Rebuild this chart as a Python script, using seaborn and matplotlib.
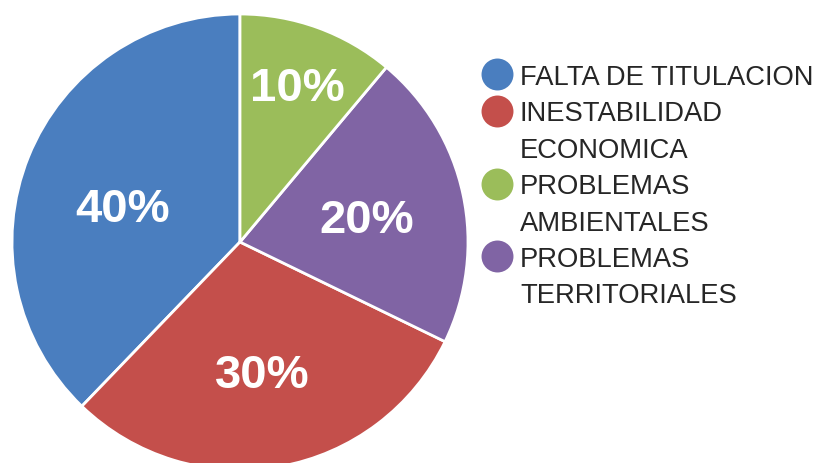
import matplotlib
matplotlib.use("Agg")
import matplotlib.pyplot as plt
import numpy as np
import seaborn as sns
from matplotlib.lines import Line2D

# wedges in drawing order (counter-clockwise from 12 o'clock)
categories = ["FALTA DE TITULACION", "INESTABILIDAD\nECONOMICA",
              "PROBLEMAS\nTERRITORIALES", "PROBLEMAS\nAMBIENTALES"]
shares = [37.8, 30.0, 21.1, 11.1]          # wedge sizes
pct_labels = ["40%", "30%", "20%", "10%"]  # labels printed on the wedges
colors = ["#4a7ebf", "#c44f4b", "#8064a4", "#9bbd5a"]
legend_order = [0, 1, 3, 2]


def main():
    sns.set_theme(style="white")
    plt.rcParams['font.family'] = ['Liberation Sans', 'DejaVu Sans']

    fig = plt.figure(figsize=(8.27, 4.64), dpi=100)
    ax = fig.add_axes([12 / 827, -7 / 464, 456 / 827, 456 / 464])
    wedges, _ = ax.pie(shares, colors=colors, startangle=90, counterclock=True,
                       wedgeprops=dict(edgecolor="white", linewidth=2))
    ax.set_xlim(-1, 1)
    ax.set_ylim(-1, 1)
    ax.set_aspect("equal")

    # (distance from centre, extra angle) per label, tuned by eye
    label_pos = [(0.54, 4), (0.57, 0), (0.57, 0), (0.74, 0)]
    for w, lab, (d, da) in zip(wedges, pct_labels, label_pos):
        mid = np.deg2rad((w.theta1 + w.theta2) / 2 + da)
        ax.text(d * np.cos(mid), d * np.sin(mid), lab, ha="center", va="center_baseline",
                color="white", fontsize=34, fontweight="bold")

    # one legend row per text line, marker only on the first line of each entry
    handles, texts = [], []
    for i in legend_order:
        lines = categories[i].split("\n")
        for j, line in enumerate(lines):
            if j == 0:
                handles.append(Line2D([], [], linestyle="", marker="o", markersize=23,
                                      markerfacecolor=colors[i], markeredgecolor="none"))
            else:
                handles.append(Line2D([], [], linestyle="", marker=""))
            texts.append(line)

    fig.legend(handles, texts, loc="upper left", bbox_to_anchor=(483 / 827, 1 - 65 / 464),
               frameon=False, fontsize=19.7, labelspacing=0.38, handlelength=1.0,
               handletextpad=0.35, borderpad=0, borderaxespad=0, labelcolor="#262626")

    fig.savefig("out.png", dpi=100)


if __name__ == "__main__":
    main()
